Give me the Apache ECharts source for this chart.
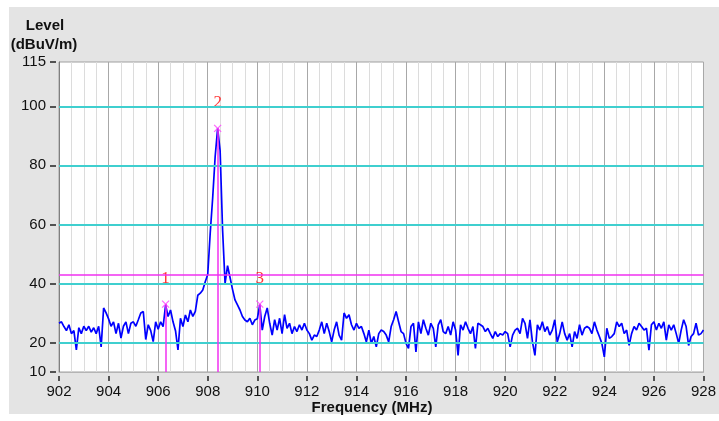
<!DOCTYPE html>
<html>
<head>
<meta charset="utf-8">
<script src="https://cdn.jsdelivr.net/npm/echarts@6/dist/echarts.min.js"></script>
<style>
html,body{margin:0;padding:0;background:#fff;}
#chart{width:719px;height:421px;}
</style>
</head>
<body>
<div id="chart"></div>
<script>
// sweep: 902 - 928 MHz, one reading every 0.1 MHz
const startMHz = 902;
const stepMHz = 0.1;
const levels = [
  26.5, 27, 25.4, 24, 26, 23, 24, 17.5, 25, 23,
  25.5, 24, 25.5, 23.5, 25, 23, 25.5, 18.5, 31.7, 30,
  28, 25.5, 27, 23, 26.5, 21.5, 25.5, 27, 23, 26.5,
  27, 25.5, 27.7, 30, 30.5, 21, 26, 24, 20.3, 27,
  24.5, 27, 25.4, 32.7, 28.8, 31, 27, 24, 17.5, 28.2,
  25.4, 29.3, 27, 31, 28.8, 30.5, 36, 36.7, 37.8, 40.6,
  43, 57, 69, 83, 92.5, 85, 58, 40, 46, 42,
  38, 34.4, 32.7, 31, 28.8, 27.6, 27, 28.2, 26, 27.6,
  28, 32.8, 24.2, 28.8, 31.7, 26.5, 22.5, 27.7, 24.2, 28.2,
  23, 29.4, 24.8, 26.5, 23, 25.4, 23.7, 26, 24.2, 26.5,
  24.2, 23, 20.8, 22.5, 22, 24.2, 27, 23, 26.5, 23.7,
  20.2, 24.2, 27, 22.5, 20.8, 30, 28.2, 29.4, 26, 24.2,
  26.5, 24.8, 25.4, 23, 20.2, 24.2, 19.7, 22, 18.5, 23,
  24.2, 23.7, 22.5, 20.2, 25.4, 27.7, 30.5, 27, 23.7, 23,
  19.7, 18, 25.4, 26.5, 16.8, 27, 23, 27.7, 24.8, 22.5,
  26.5, 24.8, 18.5, 26, 27.7, 23.7, 23, 25.4, 22.5, 27,
  24.2, 15.6, 26, 24.2, 27, 24.8, 23, 25.4, 18, 26.5,
  26, 25.4, 23.7, 24.8, 23, 21.4, 23.7, 22, 23, 22.5,
  23.7, 23, 18.5, 22.5, 24.2, 24.8, 23, 28.2, 26.5, 21.4,
  27.7, 20.2, 15.6, 26, 24.2, 27, 23.7, 25.4, 22.5, 24.2,
  27.7, 20.2, 23, 27, 23, 20.8, 23, 18.5, 23.7, 21.4,
  26, 22.5, 24.8, 25.4, 24.8, 23, 27, 24.2, 22, 19.7,
  15.1, 24.8, 21.4, 22, 23, 27, 25.4, 26.5, 23, 24.2,
  19, 23, 25.4, 24.2, 26.5, 25.4, 24.2, 24.8, 17.4, 26,
  27, 24.2, 26.5, 24.8, 27, 20.8, 26, 24.2, 26, 23,
  19.7, 24.2, 27.7, 25.4, 19, 22, 23, 26.5, 22.5, 23,
  24.2
];
const xTicks = [902, 904, 906, 908, 910, 912, 914, 916, 918, 920, 922, 924, 926, 928];
const yTicks = [10, 20, 40, 60, 80, 100, 115];
const gridLevels = [20, 40, 60, 80, 100];
const markerNames = ['1', '2', '3'];
const markerFreq = [906.3, 908.4, 910.1];
const markerLevel = [33, 92.5, 33];
const thresholdLevel = 43;

const trace = levels.map((v, i) => [startMHz + i * stepMHz, v]);
const markers = markerNames.map((n, i) => ({ name: n, value: [markerFreq[i], markerLevel[i]] }));

const chart = echarts.init(document.getElementById('chart'));
const font = 'Liberation Sans, Arial, sans-serif';
chart.setOption({
  animation: false,
  graphic: [
    { type: 'rect', left: 9, top: 7, z: -100, shape: { width: 710, height: 407 }, style: { fill: '#e4e4e4' } },
    { type: 'text', x: 45, y: 26, style: { text: 'Level', font: 'bold 15px ' + font, fill: '#111', align: 'center', verticalAlign: 'middle' } },
    { type: 'text', x: 44, y: 45, style: { text: '(dBuV/m)', font: 'bold 15px ' + font, fill: '#111', align: 'center', verticalAlign: 'middle' } },
    { type: 'text', x: 372, y: 408, style: { text: 'Frequency (MHz)', font: 'bold 15px ' + font, fill: '#111', align: 'center', verticalAlign: 'middle' } }
  ],
  grid: {
    left: 59, top: 62, width: 650, height: 310,
    show: true, backgroundColor: '#fff', borderColor: '#a0a0a0', borderWidth: 1
  },
  xAxis: [
    {
      type: 'value', min: 902, max: 928, interval: 0.5,
      axisLine: { onZero: false, lineStyle: { color: '#b4b4b4' } },
      axisTick: { show: false }, axisLabel: { show: false },
      splitLine: { lineStyle: { color: ['#a8a8a8', '#dcdcdc', '#dcdcdc', '#dcdcdc'], width: 1 } }
    },
    {
      type: 'value', position: 'bottom', offset: 4, min: 902, max: 928,
      axisLine: { show: false, onZero: false },
      axisTick: { show: true, length: 5, customValues: xTicks, lineStyle: { color: '#222', width: 1.5 } },
      axisLabel: { customValues: xTicks, margin: 8, color: '#111', fontSize: 15, fontFamily: font },
      splitLine: { show: false }
    }
  ],
  yAxis: [
    {
      type: 'value', min: 10, max: 115,
      axisLine: { show: true, onZero: false, lineStyle: { color: '#808080' } },
      axisTick: { show: false }, axisLabel: { show: false },
      splitLine: { show: false }
    },
    {
      type: 'value', position: 'left', offset: 3, min: 10, max: 115,
      axisLine: { show: false, onZero: false },
      axisTick: { show: true, length: 6, customValues: yTicks, lineStyle: { color: '#222', width: 1.5 } },
      axisLabel: { customValues: yTicks, margin: 10, color: '#111', fontSize: 15, fontFamily: font },
      splitLine: { show: false }
    }
  ],
  series: [
    {
      // cyan level lines under the trace
      type: 'line', data: [], z: 1,
      markLine: {
        silent: true, symbol: 'none', label: { show: false },
        lineStyle: { color: '#3fcfcf', width: 2, type: 'solid' },
        data: gridLevels.map(v => ({ yAxis: v }))
      }
    },
    {
      type: 'line', data: trace, z: 2,
      symbol: 'none',
      lineStyle: { color: '#0000ff', width: 1.7 }
    },
    {
      type: 'scatter', data: markers, z: 3,
      symbol: 'path://M0,0L10,10M10,0L0,10', symbolSize: 7,
      itemStyle: { color: 'transparent', borderColor: '#ff40ff', borderWidth: 1.2 },
      label: {
        show: true, position: 'top', distance: 13, formatter: '{b}',
        color: '#ff0000', fontSize: 17, fontFamily: 'Liberation Serif, serif',
        textBorderWidth: 0
      },
      markLine: {
        silent: true, symbol: 'none', label: { show: false },
        lineStyle: { color: '#f030f0', width: 1.5, type: 'solid' },
        data: [{ yAxis: thresholdLevel }].concat(
          markerFreq.map((f, i) => [{ coord: [f, 10] }, { coord: [f, markerLevel[i]] }])
        )
      }
    }
  ]
});
</script>
</body>
</html>
